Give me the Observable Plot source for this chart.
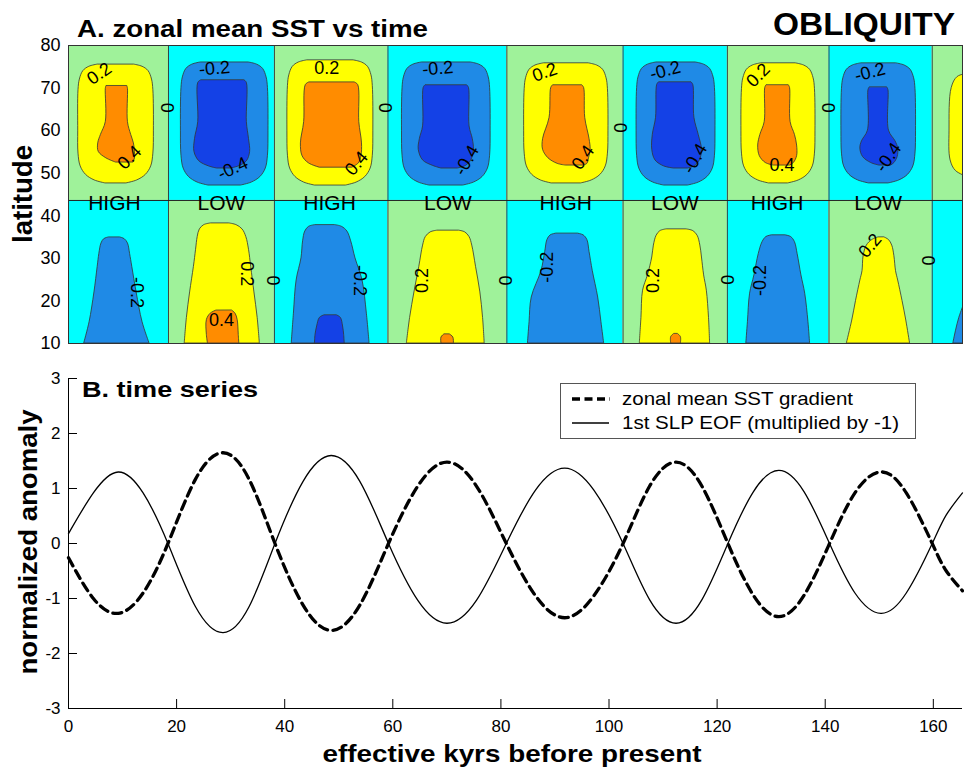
<!DOCTYPE html>
<html><head><meta charset="utf-8">
<script src="https://cdn.jsdelivr.net/npm/d3@7"></script>
<script src="https://cdn.jsdelivr.net/npm/@observablehq/plot@0.6"></script>
<style>
body{margin:0;background:#fff;}
#wrap{position:relative;width:964px;height:775px;overflow:hidden;font-family:"Liberation Sans",Arial,sans-serif;}
#wrap > svg{position:absolute;left:0;}
</style></head><body><div id="wrap"></div>
<script>
// ---------- Panel A data ----------
const latTicks = [10, 20, 30, 40, 50, 60, 70, 80];
const bandEdges = [0, 18.5, 38.1, 59.1, 81.1, 102.6, 121.9, 140.7, 159.8, 165.4]; // zero contours (kyr)
const upperBandSign = [1, -1, 1, -1, 1, -1, 1, -1, 1];
const dividerLat = 43.6;
const bandLabels = ["HIGH", "LOW", "HIGH", "LOW", "HIGH", "LOW", "HIGH", "LOW"];
const bandLabelX = [8.5, 28.3, 48.3, 70.2, 92.0, 112.2, 131.1, 149.8];

// contour outlines: [blob, lat, left kyr, right kyr]
const upperWarm02 = [
  [1,75.5,5.35,12.2],[1,75.0,3.85,13.7],[1,74.0,2.75,14.8],[1,72.0,2.1,15.45],[1,69.5,1.85,15.7],[1,60,1.8,15.8],[1,54.6,1.85,15.7],[1,51.6,2.25,15.3],[1,49.6,3.25,14.3],[1,48.3,4.85,12.7],[1,47.6,6.85,10.7],
  [3,76.5,44.1,52.8],[3,76.0,42.6,54.3],[3,75.0,41.5,55.4],[3,73.0,40.85,56.05],[3,70.5,40.6,56.3],[3,60,40.5,56.4],[3,54.1,40.6,56.3],[3,51.1,41.0,55.9],[3,49.1,42.0,54.9],[3,47.8,43.6,53.3],[3,47.1,45.6,51.3],
  [5,75.8,87.9,96.3],[5,75.3,86.4,97.8],[5,74.3,85.3,98.9],[5,72.3,84.65,99.55],[5,69.8,84.4,99.8],[5,60,84.3,99.9],[5,54.6,84.4,99.8],[5,51.6,84.8,99.4],[5,49.6,85.8,98.4],[5,48.3,87.4,96.8],[5,47.6,89.4,94.8],
  [7,75.8,128.1,134.6],[7,75.3,126.6,136.1],[7,74.3,125.5,137.2],[7,72.3,124.85,137.85],[7,69.8,124.6,138.1],[7,60,124.5,138.2],[7,54.6,124.6,138.1],[7,51.6,125.0,137.7],[7,49.6,126.0,136.7],[7,48.3,127.6,135.1],[7,47.6,129.6,133.1],
  [9,73.4,166.5,175],[9,72.6,164.5,175],[9,70,163.4,175],[9,60,163.0,175],[9,53,163.2,175],[9,50.5,164.2,175],[9,49,166.5,175]
];
const upperWarm04 = [
  [1,70.4,7.0,10.9],[1,69.8,6.9,11.0],[1,62,6.9,11.0],[1,59,6.0,11.6],[1,57,5.5,12.1],[1,55,5.6,12.3],[1,53.5,7.0,12.3],[1,52.5,8.8,12.0],
  [3,71.3,44.5,53.0],[3,70.7,43.9,53.6],[3,62,43.6,53.8],[3,57,43.0,54.3],[3,54,43.3,54.2],[3,52.3,44.5,53.7],[3,51.3,46.5,52.5],
  [5,70.6,89.6,95.1],[5,70.0,89.3,95.4],[5,63,89.0,95.6],[5,58,87.8,96.4],[5,55.5,87.8,96.6],[5,53.5,88.8,96.3],[5,52.2,90.5,96.0],[5,51.8,92.0,95.3],
  [7,70.6,129.1,133.3],[7,70.0,128.9,133.5],[7,62,128.8,133.6],[7,59,128.0,134.4],[7,56.5,127.6,134.8],[7,54,127.9,134.8],[7,52.4,129.0,134.2],[7,51.8,130.5,133.5]
];
const upperCold02 = [
  [2,76.0,24.4,33.4],[2,75.5,22.9,34.9],[2,74.5,21.8,36.0],[2,72.5,21.15,36.65],[2,70.0,20.9,36.9],[2,60,20.8,37.0],[2,54.1,20.9,36.9],[2,51.1,21.3,36.5],[2,49.1,22.3,35.5],[2,47.8,23.9,33.9],[2,47.1,25.9,31.9],
  [4,76.0,65.3,74.5],[4,75.5,63.8,76.0],[4,74.5,62.7,77.1],[4,72.5,62.05,77.75],[4,70.0,61.8,78.0],[4,60,61.7,78.1],[4,54.1,61.8,78.0],[4,51.1,62.2,77.6],[4,49.1,63.2,76.6],[4,47.8,64.8,75.0],[4,47.1,66.8,73.0],
  [6,76.0,108.7,116.1],[6,75.5,107.2,117.6],[6,74.5,106.1,118.7],[6,72.5,105.45,119.35],[6,70.0,105.2,119.6],[6,60,105.1,119.7],[6,54.1,105.2,119.6],[6,51.1,105.6,119.2],[6,49.1,106.6,118.2],[6,47.8,108.2,116.6],[6,47.1,110.2,114.6],
  [8,75.8,146.6,153.2],[8,75.3,145.1,154.7],[8,74.3,144.0,155.8],[8,72.3,143.35,156.45],[8,69.8,143.1,156.7],[8,60,143.0,156.8],[8,54.6,143.1,156.7],[8,51.6,143.5,156.3],[8,49.6,144.5,155.3],[8,48.3,146.1,153.7],[8,47.6,148.1,151.7]
];
const upperCold04 = [
  [2,71.8,24.5,32.6],[2,71.2,24.0,33.0],[2,62,24.0,33.0],[2,58,23.4,33.4],[2,55,23.3,33.6],[2,52.8,24.2,33.0],[2,51.6,26.0,31.5],[2,51.1,27.5,30.0],
  [4,70.6,66.0,73.8],[4,70.0,65.7,74.1],[4,61,65.6,74.2],[4,58,65.0,74.8],[4,55.5,64.8,75.0],[4,53,65.6,74.5],[4,51.7,67.5,73.5],[4,51.1,69.0,72.0],
  [6,71.3,109.2,115.3],[6,70.7,108.9,115.6],[6,63,108.7,115.8],[6,59,108.1,116.6],[6,55.5,108.0,117.2],[6,53,108.6,116.8],[6,51.6,110.2,115.8],[6,51.1,112.0,114.6],
  [8,70.1,148.2,151.5],[8,69.5,148.0,151.7],[8,60,147.9,151.8],[8,57.5,146.8,153.0],[8,55.8,146.5,153.5],[8,53.8,147.0,153.4],[8,52.4,148.5,152.8],[8,51.8,150.0,152.2]
];
const lowerWarm02 = [
  [2,38.2,26.3,29.8],[2,37.8,25.1,31.1],[2,36.8,24.3,32.2],[2,35,23.9,32.9],[2,32,23.6,33.4],[2,28,23.2,33.8],[2,22,22.5,34.4],[2,16,21.9,35.0],[2,10,21.5,35.4],
  [4,36.5,68.2,72.3],[4,36.1,67.0,73.4],[4,35.0,66.1,74.2],[4,33.0,65.6,74.7],[4,28,64.9,75.4],[4,22,64.0,76.2],[4,16,63.2,76.7],[4,10,62.6,77.0],
  [6,36.8,110.6,114.4],[6,36.4,109.5,115.6],[6,35.3,108.8,116.4],[6,33.0,108.3,116.9],[6,30.2,108.0,117.2],[6,26,107.2,117.6],[6,22.4,106.3,118.1],[6,16,106.0,118.5],[6,10,105.7,118.7],
  [8,34.9,149.8,151.0],[8,34.3,148.7,151.8],[8,33.0,147.7,152.4],[8,30.5,147.1,152.8],[8,27,146.9,153.1],[8,24.8,146.5,153.5],[8,20,145.7,154.3],[8,15.4,145.0,155.0],[8,10,144.0,155.7]
];
const lowerWarm04 = [
  [2,17.7,27.3,30.3],[2,17.0,26.3,30.9],[2,15.5,25.6,31.3],[2,12,25.6,31.5],[2,10,25.8,31.6],
  [4,12.1,69.5,70.6],[4,11.4,69.0,71.2],[4,10,69.0,71.3],
  [6,12.2,112.0,112.8],[6,11.5,111.5,113.3],[6,10,111.5,113.3]
];
const lowerCold02 = [
  [1,34.9,7.4,9.6],[1,34.5,6.6,10.4],[1,33.5,6.1,11.0],[1,31,5.7,11.4],[1,28,5.4,11.8],[1,22,4.8,12.6],[1,15,3.9,13.7],[1,10,2.9,15.0],
  [3,37.8,45.6,49.4],[3,37.4,44.5,50.6],[3,36.3,43.8,51.6],[3,34.0,43.4,52.3],[3,30,43.1,53.1],[3,24.8,42.2,54.4],[3,17,41.7,55.2],[3,10,41.3,55.7],
  [5,35.8,90.2,94.3],[5,35.4,89.2,95.3],[5,34.3,88.6,96.0],[5,31.5,88.2,96.4],[5,27,87.5,97.0],[5,20.8,85.7,98.0],[5,15,85.3,98.6],[5,10,85.0,99.1],
  [7,35.4,130.1,132.7],[7,35.0,129.1,133.7],[7,33.8,128.4,134.4],[7,31.0,127.7,134.9],[7,26,126.9,135.6],[7,21.7,126.1,136.3],[7,15,125.7,136.9],[7,10,125.4,137.2],
  [9,18.5,165.5,175],[9,16,164.8,175],[9,13,164.2,175],[9,10,163.7,175]
];
const lowerCold04 = [
  [3,16.6,47.3,49.7],[3,16.0,46.5,50.4],[3,14,46.0,50.8],[3,12,45.7,51.0],[3,10,45.6,51.1]
];

// contour labels
const clText  = ["0.2","0.4","0","-0.2","-0.4","0.2","0","0.4","-0.2","-0.4","0.2","0","0.4","-0.2","-0.4","0.2","0","0.4","-0.2","-0.4",
                 "-0.2","0.2","0.4","0","-0.2","0.2","0","-0.2","0.2","0","-0.2","0.2","0"];
const clX     = [5.7,11.3,18.1,27.0,30.4,47.8,58.5,53.3,68.3,73.7,88.1,102.0,95.2,110.4,115.9,127.6,140.4,132.0,148.3,151.7,
                 12.6,33.0,28.3,37.8,53.9,65.4,80.7,88.5,108.1,121.7,128.0,148.3,159.0];
const clLat   = [73.4,53.7,65.4,74.6,51.1,74.6,65.4,52.3,74.6,53.0,73.7,60.7,53.7,74.1,53.4,73.0,65.4,51.8,73.7,53.7,
                 22.0,26.4,15.4,24.8,24.8,24.8,24.8,27.9,24.8,25.0,24.8,33.0,29.5];
const clAngle = [-35,-45,90,-5,-25,0,90,-50,-5,-60,-20,90,-55,-15,-60,-45,90,0,-15,-55,
                 90,90,0,90,90,-90,90,-90,-90,90,-90,-50,90];

// ---------- Panel B data ----------
const timeKyr = [0,4.6,9.2,13.8,18.4,23.5,28.6,33.4,38.2,43.4,48.6,53.9,59.2,64.6,70.0,75.5,81.0,86.4,91.8,97.2,102.6,107.5,112.4,117.2,122.0,126.7,131.4,136.1,140.8,145.5,150.3,155.0,159.8,162.4,165.4];
const sstGradient = [-0.26,-1.0,-1.27,-0.9,0,1.17,1.65,1.17,0,-1.12,-1.58,-1.12,0,1.04,1.48,1.04,0,-0.95,-1.35,-0.95,0,1.04,1.48,1.04,0,-0.94,-1.33,-0.94,0,0.92,1.30,0.92,0,-0.5,-0.86];
const slpEof = [0.18,0.92,1.30,0.92,0,-1.15,-1.62,-1.15,0,1.13,1.60,1.13,0,-1.03,-1.45,-1.03,0,0.97,1.37,0.97,0,-1.02,-1.45,-1.02,0,0.94,1.33,0.94,0,-0.9,-1.27,-0.9,0,0.52,0.92];
const xTicks = [0,20,40,60,80,100,120,140,160];
const yTicks = [-3,-2,-1,0,1,2,3];

// ---------- styles ----------
const FONT = '"Liberation Sans", Arial, sans-serif';
const GREEN = "#9ff29a", CYAN = "#00ffff", YELLOW = "#ffff00", ORANGE = "#ff8c00", MBLUE = "#1f8ae6", DBLUE = "#1441e6", LINE = "#333";
const XMAX = 165.4;

const rows = a => a.map(([id, lat, xl, xr]) => ({id, lat, xl, xr}));
const bands = d3.range(bandEdges.length - 1).map(i => ({x1: bandEdges[i], x2: bandEdges[i + 1], s: upperBandSign[i]}));
const blob = (a, fill) => Plot.areaX(rows(a), {y: "lat", x1: "xl", x2: "xr", z: "id", fill, stroke: LINE, strokeWidth: 0.8, curve: "catmull-rom", clip: true});
const labels = clText.map((t, i) => ({t, x: clX[i], lat: clLat[i], a: clAngle[i]}));

const topPlot = Plot.plot({
  width: 964, height: 360, marginTop: 45, marginBottom: 17, marginLeft: 68, marginRight: 2,
  x: {domain: [0, XMAX], axis: null},
  y: {domain: [10, 80]},
  color: {type: "identity"},
  style: {fontFamily: FONT, fontSize: "18px", color: "black", background: "transparent", overflow: "visible"},
  marks: [
    Plot.rect(bands, {x1: "x1", x2: "x2", y1: dividerLat, y2: 80, fill: d => d.s > 0 ? GREEN : CYAN}),
    Plot.rect(bands, {x1: "x1", x2: "x2", y1: 10, y2: dividerLat, fill: d => d.s > 0 ? CYAN : GREEN}),
    blob(upperWarm02, YELLOW), blob(upperWarm04, ORANGE),
    blob(upperCold02, MBLUE), blob(upperCold04, DBLUE),
    blob(lowerWarm02, YELLOW), blob(lowerWarm04, ORANGE),
    blob(lowerCold02, MBLUE), blob(lowerCold04, DBLUE),
    Plot.ruleX(bandEdges.slice(1, -1), {y1: 10, y2: 80, stroke: LINE, strokeWidth: 0.9}),
    Plot.ruleY([dividerLat], {stroke: "#222", strokeWidth: 1}),
    Plot.frame({stroke: LINE, strokeWidth: 1}),
    Plot.text(labels, {x: "x", y: "lat", text: "t", rotate: "a", fontSize: 18, fill: "black"}),
    Plot.text(bandLabels, {x: (d, i) => bandLabelX[i], y: 43.0, text: d => d, fontSize: 21, fill: "black"}),
    Plot.axisY({ticks: latTicks, tickSize: 0, tickPadding: 8, label: null, fontSize: 18, tickFormat: d => String(d)})
  ]
});
topPlot.style.top = "0px";

const series = timeKyr.map((t, i) => ({t, sst: sstGradient[i], slp: slpEof[i]}));
const bottomPlot = Plot.plot({
  width: 964, height: 415, marginTop: 18, marginBottom: 67, marginLeft: 68, marginRight: 2,
  x: {domain: [0, XMAX]},
  y: {domain: [-3, 3]},
  style: {fontFamily: FONT, fontSize: "17px", color: "black", background: "transparent", overflow: "visible"},
  marks: [
    Plot.axisX({ticks: xTicks, tickSize: 9, dy: -9, tickPadding: 11, label: null, fontSize: 17, tickFormat: d => String(d)}),
    Plot.axisY({ticks: yTicks, tickSize: 9, dx: 9, tickPadding: 8, label: null, fontSize: 17, tickFormat: d => String(d)}),
    Plot.ruleX([0], {stroke: "black"}),
    Plot.ruleY([-3], {stroke: "black"}),
    Plot.line(series, {x: "t", y: "sst", stroke: "black", strokeWidth: 3.3, strokeDasharray: "9,5.5", curve: "natural"}),
    Plot.line(series, {x: "t", y: "slp", stroke: "black", strokeWidth: 1.3, curve: "natural"})
  ]
});
bottomPlot.style.top = "360px";

const wrap = document.getElementById("wrap");
wrap.append(topPlot, bottomPlot);

// ---------- titles, axis labels, legend ----------
const ov = d3.select(wrap).append("svg").attr("width", 964).attr("height", 775)
  .style("top", "0px").style("font-family", FONT).style("pointer-events", "none");
function txt(s, x, y, size, len, opts = {}) {
  const t = ov.append("text").attr("x", x).attr("y", y).attr("font-size", size)
    .attr("font-weight", opts.weight || "bold").attr("text-anchor", opts.anchor || "start")
    .attr("fill", "black").text(s);
  if (opts.rotate) t.attr("transform", `rotate(${opts.rotate},${x},${y})`);
  if (len) t.attr("textLength", len).attr("lengthAdjust", "spacingAndGlyphs");
  return t;
}
txt("A. zonal mean SST vs time", 77, 37, 23, 351);
txt("OBLIQUITY", 955, 35, 32, 182, {anchor: "end"});
txt("latitude", 32, 194, 27, 98, {anchor: "middle", rotate: -90});
txt("B. time series", 82, 397, 22, 176);
txt("normalized anomaly", 37, 542, 25, 265, {anchor: "middle", rotate: -90});
txt("effective kyrs before present", 512, 762, 24, 379, {anchor: "middle"});

ov.append("rect").attr("x", 560.5).attr("y", 383.5).attr("width", 355).attr("height", 55)
  .attr("fill", "white").attr("stroke", "#555").attr("stroke-width", 1);
ov.append("line").attr("x1", 572).attr("x2", 610).attr("y1", 399).attr("y2", 399)
  .attr("stroke", "black").attr("stroke-width", 3.3).attr("stroke-dasharray", "8,4.5");
ov.append("line").attr("x1", 572).attr("x2", 609).attr("y1", 423).attr("y2", 423)
  .attr("stroke", "black").attr("stroke-width", 1.3);
txt("zonal mean SST gradient", 622, 405, 19, 231, {weight: "normal"});
txt("1st SLP EOF (multiplied by -1)", 622, 429, 19, 277, {weight: "normal"});
</script></body></html>
